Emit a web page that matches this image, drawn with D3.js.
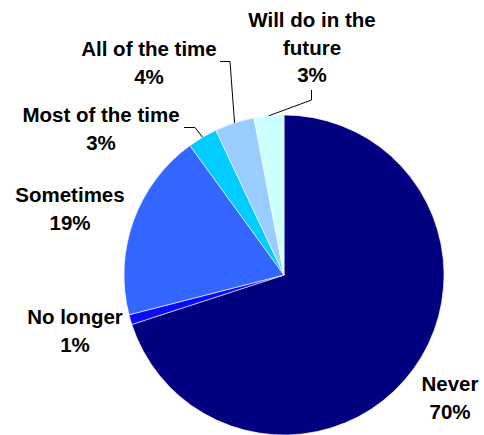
<!DOCTYPE html>
<html>
<head>
<meta charset="utf-8">
<script src="https://cdn.jsdelivr.net/npm/d3@7"></script>
<style>
  html, body { margin: 0; padding: 0; background: #fff; }
  svg { display: block; }
  text { font-family: "Liberation Sans", Arial, sans-serif; font-weight: bold; fill: #000; }
</style>
</head>
<body>
<svg id="chart" width="484" height="435"></svg>
<script>
// Responses, clockwise from twelve o'clock
const categories = ["Never", "No longer", "Sometimes", "Most of the time", "All of the time", "Will do in the future"];
const values = [70, 1, 19, 3, 4, 3];
const colors = ["#000080", "#0A0AFF", "#3366FF", "#00CCFF", "#99CCFF", "#CCFFFF"];

// Label text lines per slice
const labelLines = [
  ["Never", "70%"],
  ["No longer", "1%"],
  ["Sometimes", "19%"],
  ["Most of the time", "3%"],
  ["All of the time", "4%"],
  ["Will do in the", "future", "3%"]
];

// Label layout: centre x, first baseline y, and optional leader elbow
const labelLayout = [
  { x: 450, y: 391 },
  { x: 75, y: 324 },
  { x: 70, y: 202 },
  { x: 101, y: 122, leader: [[184, 127.5], [195, 127.5]] },
  { x: 149, y: 56, leader: [[220, 61.5], [230, 61.5]] },
  { x: 312, y: 27, leader: [[311.5, 90], [311.5, 100]] }
];

const cx = 284, cy = 275, radius = 160;
const lineH = 27.5;

const svg = d3.select("#chart");
const g = svg.append("g").attr("transform", `translate(${cx},${cy})`);

const pie = d3.pie().sort(null).value(d => d);
const arcs = pie(values);
const arc = d3.arc().innerRadius(0).outerRadius(radius);

g.selectAll("path.slice")
  .data(arcs)
  .join("path")
  .attr("class", "slice")
  .attr("d", arc)
  .attr("fill", (d, i) => colors[i])
  .attr("stroke", "#fff")
  .attr("stroke-width", 0.6);

// Leader lines from label elbow to the slice's outer edge at its mid angle
arcs.forEach((a, i) => {
  const lay = labelLayout[i];
  if (!lay.leader) return;
  const mid = (a.startAngle + a.endAngle) / 2;
  const end = [cx + radius * Math.sin(mid), cy - radius * Math.cos(mid)];
  const pts = lay.leader.concat([end]);
  svg.append("path")
    .attr("d", d3.line()(pts))
    .attr("fill", "none")
    .attr("stroke", "#000")
    .attr("stroke-width", 1);
});

// Labels
labelLines.forEach((lines, i) => {
  const lay = labelLayout[i];
  const t = svg.append("text")
    .attr("text-anchor", "middle")
    .attr("font-size", "20.5px");
  lines.forEach((ln, j) => {
    t.append("tspan")
      .attr("x", lay.x)
      .attr("y", lay.y + j * lineH)
      .text(ln);
  });
});
</script>
</body>
</html>
